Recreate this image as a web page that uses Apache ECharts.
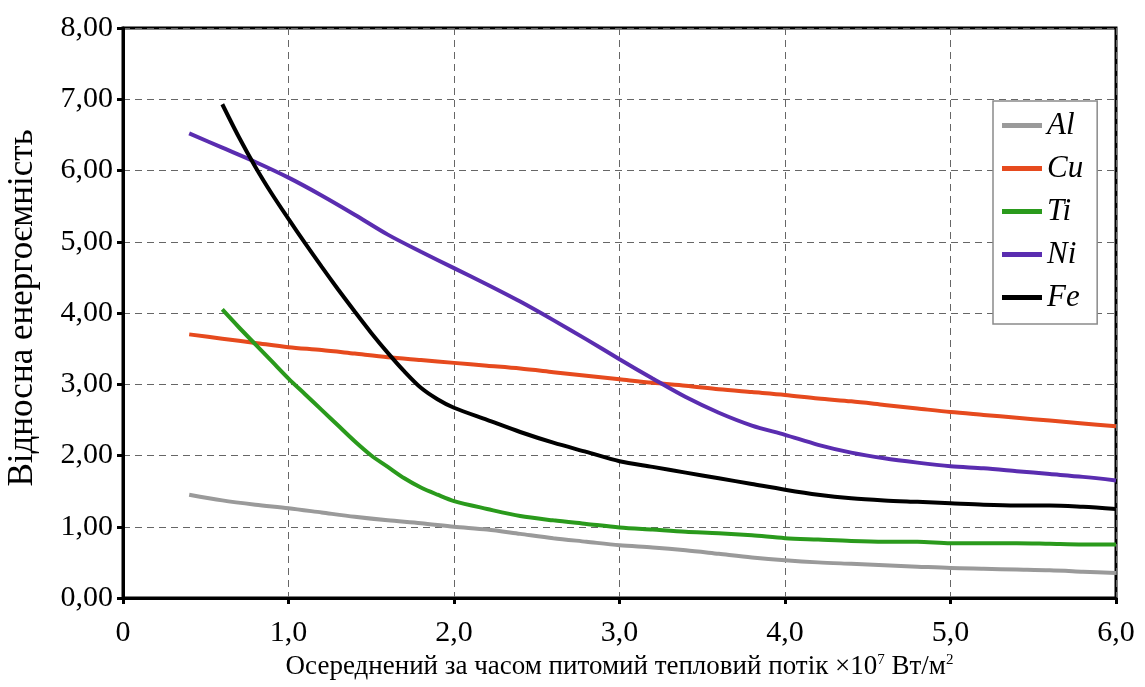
<!DOCTYPE html>
<html>
<head>
<meta charset="utf-8">
<script src="https://cdn.jsdelivr.net/npm/echarts@6/dist/echarts.min.js"></script>
<style>
html,body{margin:0;padding:0;background:#fff;}
#chart{width:1145px;height:687px;}
</style>
</head>
<body>
<div id="chart"></div>
<script>
const seriesNames = ['Al', 'Cu', 'Ti', 'Ni', 'Fe'];
const xStep02 = [0.4,0.6,0.8,1.0,1.2,1.4,1.6,1.8,2.0,2.2,2.4,2.6,2.8,3.0,3.2,3.4,3.6,3.8,4.0,4.2,4.4,4.6,4.8,5.0,5.2,5.4,5.6,5.8,6.0];
const xFine = [0.6,0.7,0.8,0.9,1.0,1.1,1.2,1.3,1.4,1.5,1.6,1.7,1.8,1.9,2.0,2.2,2.4,2.6,2.8,3.0,3.2,3.4,3.6,3.8,4.0,4.2,4.4,4.6,4.8,5.0,5.2,5.4,5.6,5.8,6.0];
const alValues = [1.45,1.37,1.31,1.26,1.20,1.14,1.09,1.05,1.00,0.96,0.90,0.84,0.79,0.74,0.71,0.67,0.62,0.57,0.53,0.50,0.48,0.46,0.44,0.42,0.41,0.40,0.39,0.37,0.35];
const cuValues = [3.70,3.64,3.58,3.52,3.48,3.43,3.38,3.34,3.30,3.26,3.22,3.17,3.12,3.07,3.02,2.98,2.93,2.89,2.85,2.80,2.76,2.71,2.66,2.61,2.57,2.53,2.49,2.45,2.41];
const tiValues = [4.05,3.80,3.56,3.32,3.08,2.86,2.64,2.42,2.20,2.00,1.84,1.68,1.55,1.45,1.36,1.25,1.15,1.09,1.04,0.99,0.96,0.93,0.91,0.88,0.84,0.82,0.80,0.79,0.79,0.77,0.77,0.77,0.76,0.75,0.75];
const niValues = [6.52,6.32,6.12,5.90,5.65,5.38,5.10,4.86,4.63,4.40,4.16,3.90,3.63,3.35,3.08,2.82,2.60,2.42,2.29,2.15,2.04,1.96,1.90,1.85,1.82,1.78,1.74,1.70,1.65];
const feValues = [6.93,6.47,6.05,5.67,5.32,4.98,4.65,4.33,4.02,3.72,3.44,3.18,2.95,2.79,2.67,2.50,2.33,2.18,2.05,1.92,1.84,1.76,1.68,1.60,1.52,1.45,1.40,1.37,1.35,1.33,1.31,1.30,1.30,1.28,1.25];
const xTitle = 'Осереднений за часом питомий тепловий потік ×10{sup|7} Вт/м{sup|2}';
const yTitle = 'Відносна енергоємність';

const colors = ['#9a9a9a', '#e64a1e', '#2a9a1c', '#5a2db0', '#000000'];
const xsFor = [xStep02, xStep02, xFine, xStep02, xFine];
const valsFor = [alValues, cuValues, tiValues, niValues, feValues];
const FONT = '"Liberation Serif", "DejaVu Serif", serif';

const series = seriesNames.map((n, i) => ({
  name: n,
  type: 'line',
  data: xsFor[i].map((x, j) => [x, valsFor[i][j]]),
  showSymbol: false,
  symbol: 'none',
  smooth: 0.3,
  lineStyle: { color: colors[i], width: 4 },
  itemStyle: { color: colors[i] },
  z: 3
}));

const chart = echarts.init(document.getElementById('chart'), null, { renderer: 'canvas' });
chart.setOption({
  animation: false,
  backgroundColor: '#fff',
  grid: {
    left: 123, right: 29, top: 28, bottom: 89,
    containLabel: false, outerBoundsMode: 'none',
    show: true, borderColor: '#000', borderWidth: 3, backgroundColor: 'transparent'
  },
  legend: {
    orient: 'vertical',
    left: 993,
    top: 101,
    data: seriesNames,
    icon: 'rect',
    itemWidth: 40,
    itemHeight: 5,
    itemGap: 12,
    padding: [9, 14, 11, 9],
    backgroundColor: '#fff',
    borderColor: '#8a8a8a',
    borderWidth: 1.5,
    textStyle: { fontFamily: FONT, fontStyle: 'italic', fontSize: 31, color: '#000' }
  },
  xAxis: {
    type: 'value',
    min: 0, max: 6, interval: 1,
    name: xTitle,
    nameLocation: 'middle',
    nameGap: 55,
    nameTextStyle: {
      fontFamily: FONT, fontSize: 27, color: '#000',
      rich: { sup: { fontFamily: FONT, fontSize: 15, color: '#000', verticalAlign: 'top', padding: [0, 0, 11, 0] } }
    },
    axisLine: { show: true, lineStyle: { color: '#000', width: 3 } },
    axisTick: { show: true, length: 6, lineStyle: { color: '#000', width: 3 } },
    axisLabel: {
      fontFamily: FONT, fontSize: 30, color: '#000', margin: 20,
      formatter: v => v === 0 ? '0' : v.toFixed(1).replace('.', ',')
    },
    splitLine: { show: true, lineStyle: { color: '#666', width: 1, type: [7, 5] } }
  },
  yAxis: {
    type: 'value',
    min: 0, max: 8, interval: 1,
    name: yTitle,
    nameLocation: 'middle',
    nameGap: 83,
    nameTextStyle: { fontFamily: FONT, fontSize: 35, color: '#000', padding: [0, 0, 0, 10] },
    axisLine: { show: true, lineStyle: { color: '#000', width: 3 } },
    axisTick: { show: true, length: 6, lineStyle: { color: '#000', width: 3 } },
    axisLabel: {
      fontFamily: FONT, fontSize: 30, color: '#000', margin: 10,
      formatter: v => v.toFixed(2).replace('.', ',')
    },
    splitLine: { show: true, lineStyle: { color: '#666', width: 1, type: [7, 5] } }
  },
  series: series
});
</script>
</body>
</html>
